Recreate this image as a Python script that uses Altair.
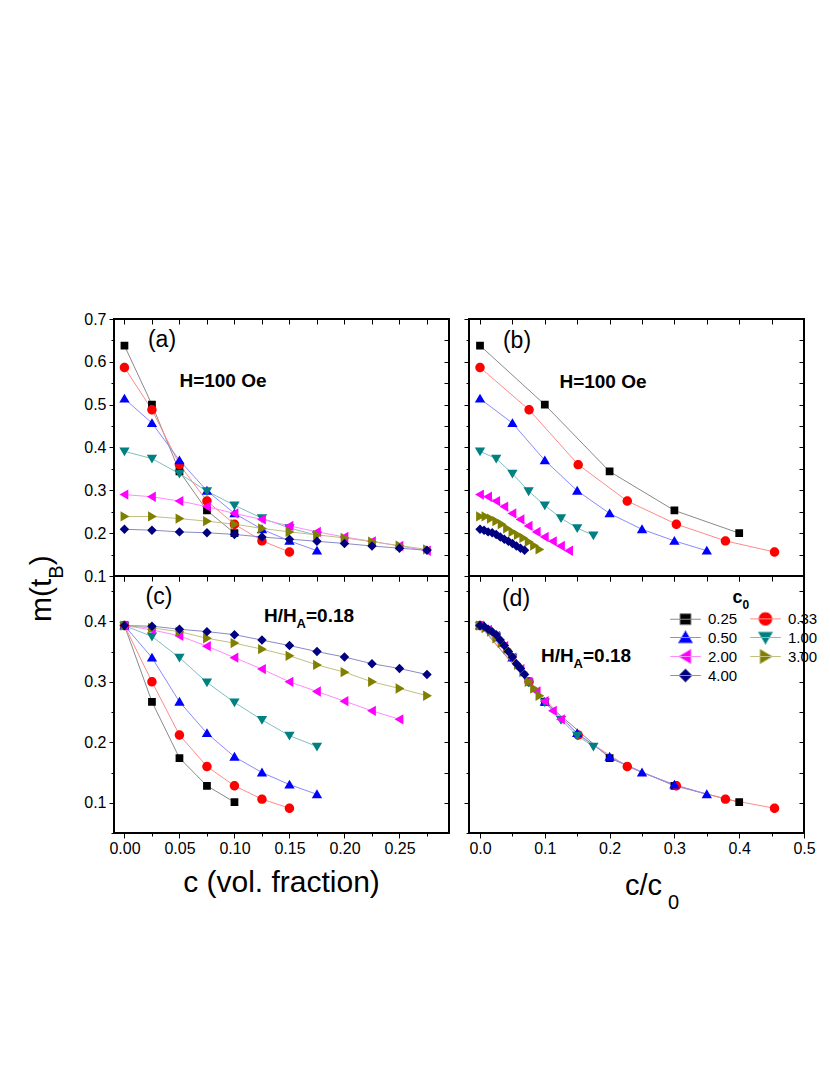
import altair as alt
import pandas as pd

F = "Liberation Sans, Arial, sans-serif"

series = ["0.25", "0.33", "0.50", "1.00", "2.00", "3.00", "4.00"]
c0 = [0.25, 0.33, 0.50, 1.00, 2.00, 3.00, 4.00]
colors = ["#000000", "#ff0000", "#0000ff", "#008080", "#ff00ff", "#808000", "#000080"]
line_colors = ["#8a8a8a", "#ff8a8a", "#8a8aff", "#80c0c0", "#ff8aff", "#c0c080", "#8a8ac8"]

c_grid = [0.0, 0.025, 0.05, 0.075, 0.1, 0.125, 0.15, 0.175, 0.2, 0.225, 0.25, 0.275]

# H = 100 Oe  (panels a, b)
m_H = {
    "0.25": [0.638, 0.500, 0.344, 0.253, 0.200],
    "0.33": [0.587, 0.488, 0.360, 0.275, 0.221, 0.182, 0.156],
    "0.50": [0.514, 0.457, 0.370, 0.299, 0.246, 0.209, 0.182, 0.159],
    "1.00": [0.391, 0.374, 0.339, 0.298, 0.265, 0.235, 0.212, 0.195],
    "2.00": [0.290, 0.285, 0.275, 0.262, 0.246, 0.232, 0.217, 0.203, 0.191, 0.181, 0.170, 0.159],
    "3.00": [0.239, 0.239, 0.234, 0.228, 0.221, 0.211, 0.203, 0.196, 0.189, 0.180, 0.171, 0.162],
    "4.00": [0.209, 0.207, 0.203, 0.201, 0.197, 0.191, 0.186, 0.181, 0.176, 0.170, 0.165, 0.160],
}
# H/H_A = 0.18  (panels c, d)
m_R = {
    "0.25": [0.393, 0.267, 0.174, 0.128, 0.101],
    "0.33": [0.393, 0.300, 0.212, 0.160, 0.128, 0.106, 0.091],
    "0.50": [0.393, 0.340, 0.267, 0.215, 0.176, 0.150, 0.130, 0.114],
    "1.00": [0.393, 0.375, 0.340, 0.299, 0.266, 0.237, 0.211, 0.193],
    "2.00": [0.393, 0.386, 0.376, 0.359, 0.340, 0.321, 0.300, 0.284, 0.268, 0.252, 0.238],
    "3.00": [0.393, 0.389, 0.383, 0.372, 0.364, 0.354, 0.343, 0.328, 0.316, 0.300, 0.289, 0.277],
    "4.00": [0.393, 0.392, 0.387, 0.383, 0.378, 0.369, 0.360, 0.350, 0.341, 0.330, 0.322, 0.312],
}

x_ticks_c = [0.0, 0.025, 0.05, 0.075, 0.1, 0.125, 0.15, 0.175, 0.2, 0.225, 0.25, 0.275]
x_ticks_r = [0.0, 0.05, 0.1, 0.15, 0.2, 0.25, 0.3, 0.35, 0.4, 0.45, 0.5]
y_ticks_top = [0.1, 0.15, 0.2, 0.25, 0.3, 0.35, 0.4, 0.45, 0.5, 0.55, 0.6, 0.65, 0.7]
y_ticks_bot = [0.05, 0.1, 0.15, 0.2, 0.25, 0.3, 0.35, 0.4, 0.45]

LINE = "M-2.5,0H2.5"
shape_paths = [
    LINE + "M-0.9,-0.9H0.9V0.9H-0.9Z",
    LINE + "M-1.1,0A1.1,1.1,0,1,0,1.1,0A1.1,1.1,0,1,0,-1.1,0Z",
    LINE + "M0,-1.15L1.2,0.9L-1.2,0.9Z",
    LINE + "M0,1.15L1.2,-0.9L-1.2,-0.9Z",
    LINE + "M-1.15,0L0.9,-1.2L0.9,1.2Z",
    LINE + "M1.15,0L-0.9,-1.2L-0.9,1.2Z",
    LINE + "M0,-1.1L1.1,0L0,1.1L-1.1,0Z",
]


def frame(mdict):
    rows = []
    for s, cc in zip(series, c0):
        for i, m in enumerate(mdict[s]):
            rows.append({"series": s, "c": c_grid[i], "cr": c_grid[i] / cc, "m": m})
    return pd.DataFrame(rows)


dfH = frame(m_H)
dfR = frame(m_R)

fill_scale = alt.Scale(domain=series, range=colors)
stroke_scale = alt.Scale(domain=series, range=line_colors)
shape_scale = alt.Scale(domain=series, range=shape_paths)

leg = alt.Legend(
    title=None, orient="none", legendX=564, legendY=292, columns=2, direction="horizontal",
    symbolSize=150, symbolStrokeWidth=1, labelFontSize=15, labelFont=F,
    labelColor="black", labelOffset=15, columnPadding=10, rowPadding=0, padding=0,
)


def major(mult):
    return f"abs(datum.value*{mult} - round(datum.value*{mult})) < 0.001"


def out_axis(orient, values, mult, fmt, labels):
    kw = dict(
        orient=orient, values=values, domain=False, grid=False, title=None,
        ticks=True, tickColor="black", tickWidth=1,
        tickSize={"condition": {"test": major(mult), "value": 5}, "value": 3},
        labels=labels,
    )
    if labels:
        kw.update(
            format=fmt, labelExpr=f"{major(mult)} ? datum.label : ''",
            labelFontSize=16, labelFont=F, labelColor="black",
            labelPadding=3 if orient == "left" else 2, labelFlush=False,
        )
    return alt.Axis(**kw)


def in_axis(orient, values):
    return alt.Axis(
        orient=orient, values=values, domain=False, grid=False, title=None,
        ticks=True, tickColor="black", tickWidth=1, tickSize=5, offset=-5, labels=False,
    )


def txt(df, size, bold=False, align="left", baseline="alphabetic", angle=0):
    kw = dict(fontSize=size, font=F, color="black", align=align, baseline=baseline,
              fontWeight="bold" if bold else "normal")
    if angle:
        kw["angle"] = angle
    return alt.Chart(df).mark_text(**kw).encode(
        x=alt.value(float(df["px"][0])),
        y=alt.value(float(df["py"][0])),
        text="t:N",
    )


def T(t, px, py):
    return pd.DataFrame({"t": [t], "px": [px], "py": [py]})


def panel(df, xfield, xdom, xvals, xmult, xfmt, ydom, yvals, xlab, ylab, texts):
    xs = alt.Scale(domain=xdom, nice=False, zero=False)
    ys = alt.Scale(domain=ydom, nice=False, zero=False)
    base = alt.Chart(df)
    lines = base.mark_line(strokeWidth=1).encode(
        x=alt.X(f"{xfield}:Q", scale=xs, axis=out_axis("bottom", xvals, xmult, xfmt, xlab)),
        y=alt.Y("m:Q", scale=ys, axis=out_axis("left", yvals, 10, ".1f", ylab)),
        stroke=alt.Stroke("series:N", scale=stroke_scale, legend=leg),
        order="c:Q",
    )
    pts = base.mark_point(filled=True, size=74, opacity=1).encode(
        x=alt.X(f"{xfield}:Q", scale=xs, axis=in_axis("top", xvals)),
        y=alt.Y("m:Q", scale=ys, axis=in_axis("right", yvals)),
        fill=alt.Fill("series:N", scale=fill_scale, legend=leg),
        shape=alt.Shape("series:N", scale=shape_scale, legend=leg),
    )
    return alt.layer(lines, pts, *texts).resolve_axis(x="independent", y="independent").properties(
        width=335, height=257
    )


texts_a = [
    txt(T("(a)", 48, 21), 23, align="center", baseline="middle"),
    txt(T("H=100 Oe", 109, 62), 19, bold=True, align="center", baseline="middle"),
    txt(T("m(t", -63, 303), 30, angle=270),
    txt(T("B", -51, 259.7), 20, angle=270),
    txt(T(")", -63, 246.3), 30, angle=270),
]
texts_b = [
    txt(T("(b)", 48, 22), 23, align="center", baseline="middle"),
    txt(T("H=100 Oe", 134, 63), 19, bold=True, align="center", baseline="middle"),
]
texts_c = [
    txt(T("(c)", 45, 21), 23, align="center", baseline="middle"),
    txt(T("H/H", 150, 46), 19, bold=True),
    txt(T("A", 182.5, 52), 13, bold=True),
    txt(T("=0.18", 192, 46), 19, bold=True),
    txt(T("c (vol. fraction)", 167.5, 316), 30, align="center"),
]
texts_d = [
    txt(T("(d)", 47, 23), 23, align="center", baseline="middle"),
    txt(T("H/H", 72, 86), 19, bold=True),
    txt(T("A", 104.5, 92), 13, bold=True),
    txt(T("=0.18", 114, 86), 19, bold=True),
    txt(T("c", 263.5, 27), 18, bold=True),
    txt(T("0", 273.5, 33), 12, bold=True),
    txt(T("c/c", 156, 319), 29),
    txt(T("0", 199, 333), 20),
]

xc_dom = [-0.0095, 0.295]
xr_dom = [-0.017, 0.5]
yt_dom = [0.1, 0.7]
yb_dom = [0.05, 0.475]

pa = panel(dfH, "c", xc_dom, x_ticks_c, 20, ".2f", yt_dom, y_ticks_top, False, True, texts_a)
pb = panel(dfH, "cr", xr_dom, x_ticks_r, 10, ".1f", yt_dom, y_ticks_top, False, False, texts_b)
pc = panel(dfR, "c", xc_dom, x_ticks_c, 20, ".2f", yb_dom, y_ticks_bot, True, True, texts_c)
pd_ = panel(dfR, "cr", xr_dom, x_ticks_r, 10, ".1f", yb_dom, y_ticks_bot, True, False, texts_d)

chart = alt.concat(pa, pb, pc, pd_, columns=2, spacing={"row": 0, "column": 20}, bounds="flush").properties(
    padding={"left": 18, "top": 302, "right": 0, "bottom": 5},
    background="white",
).configure_view(
    stroke="black", strokeWidth=2
).configure_axis(
    labelFontSize=16, labelFont=F, labelColor="black"
).configure_legend(
    labelFontSize=15, labelFont=F, labelColor="black"
)

chart.save("out.html", embed_options={"renderer": "svg", "actions": False})
